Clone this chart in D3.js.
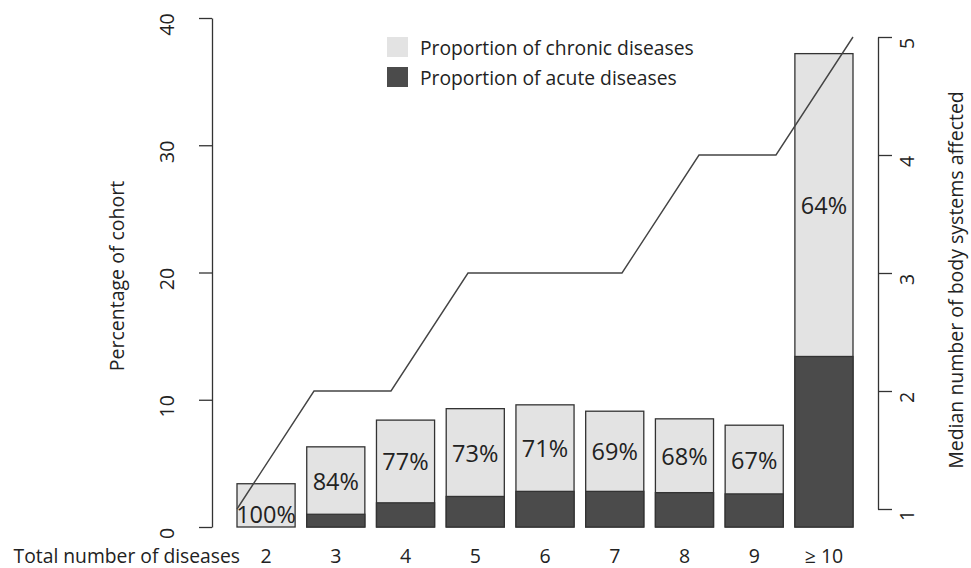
<!DOCTYPE html>
<html>
<head>
<meta charset="utf-8">
<script src="https://cdn.jsdelivr.net/npm/d3@7"></script>
<style>
  html, body { margin: 0; padding: 0; background: #fff; }
  svg { display: block; }
  text { font-family: "Open Sans", "Noto Sans", sans-serif; fill: #222; }
</style>
</head>
<body>
<svg id="chart" width="971" height="568"></svg>
<script>
// ---- data ----
const categories = ["2", "3", "4", "5", "6", "7", "8", "9", "\u2265 10"];
const totalPct   = [3.4, 6.3, 8.4, 9.3, 9.6, 9.1, 8.5, 8.0, 37.2];   // % of cohort (bar height)
const acutePct   = [0.0, 1.0, 1.9, 2.4, 2.8, 2.8, 2.7, 2.6, 13.4];  // acute part of bar
const chronicLabels = ["100%", "84%", "77%", "73%", "71%", "69%", "68%", "67%", "64%"];
const medianSystems = [1, 2, 2, 3, 3, 3, 4, 4, 5];
const leftTicks  = [0, 10, 20, 30, 40];
const rightTicks = [1, 2, 3, 4, 5];
const legendLabels = ["Proportion of chronic diseases", "Proportion of acute diseases"];

// ---- layout ----
const svg = d3.select("#chart");
const chronicColor = "#e3e3e3", acuteColor = "#4b4b4b", strokeColor = "#333";

const x = d3.scaleBand().domain(categories).range([237, 853])
  .paddingInner(0.2 / 1.2).paddingOuter(0);
const xLine = d3.scalePoint().domain(categories).range([237, 853]).padding(0);
const yL = d3.scaleLinear().domain([0, 40]).range([527, 18]);
const yR = d3.scaleLinear().domain([1, 5]).range([509, 37]);

// bars: chronic (full) then acute on top
const g = svg.append("g");
g.selectAll("rect.total").data(categories).join("rect")
  .attr("x", d => x(d)).attr("width", x.bandwidth())
  .attr("y", (d, i) => yL(totalPct[i]))
  .attr("height", (d, i) => yL(0) - yL(totalPct[i]))
  .attr("fill", chronicColor).attr("stroke", strokeColor).attr("stroke-width", 1.3);
g.selectAll("rect.acute").data(categories).join("rect")
  .attr("x", d => x(d)).attr("width", x.bandwidth())
  .attr("y", (d, i) => yL(acutePct[i]))
  .attr("height", (d, i) => yL(0) - yL(acutePct[i]))
  .attr("fill", acuteColor).attr("stroke", strokeColor).attr("stroke-width", 1.3)
  .attr("display", (d, i) => acutePct[i] > 0 ? null : "none");

// percent labels
g.selectAll("text.pct").data(categories).join("text")
  .attr("x", d => x(d) + x.bandwidth() / 2)
  .attr("y", (d, i) => (yL(totalPct[i]) + yL(acutePct[i])) / 2 + (i === 0 ? 9 : 0))
  .attr("text-anchor", "middle").attr("dominant-baseline", "central")
  .attr("font-size", 23.5).text((d, i) => chronicLabels[i]);

// line
const line = d3.line().x((d, i) => xLine(categories[i])).y(d => yR(d));
svg.append("path").datum(medianSystems).attr("d", line)
  .attr("fill", "none").attr("stroke", "#444").attr("stroke-width", 1.4);

// left axis
const axL = svg.append("g").attr("transform", "translate(212,0)")
  .call(d3.axisLeft(yL).tickValues(leftTicks).tickSizeInner(13).tickSizeOuter(0).tickPadding(0));
axL.select(".domain").attr("stroke", "#333").attr("stroke-width", 1.3);
axL.selectAll(".tick line").attr("stroke", "#333").attr("stroke-width", 1.3);
axL.selectAll(".tick text").attr("font-size", 19.5).attr("fill", "#222")
  .attr("transform", "translate(-45,6) rotate(-90)").attr("x", 0).attr("y", 0)
  .attr("dy", "0.35em").attr("text-anchor", "middle");

// right axis
const axR = svg.append("g").attr("transform", "translate(878,0)")
  .call(d3.axisRight(yR).tickValues(rightTicks).tickFormat(d3.format("d")).tickSizeInner(14).tickSizeOuter(0));
axR.select(".domain").attr("stroke", "#333").attr("stroke-width", 1.3);
axR.selectAll(".tick line").attr("stroke", "#333").attr("stroke-width", 1.3);
axR.selectAll(".tick text").attr("font-size", 19.5).attr("fill", "#222")
  .attr("transform", "translate(29,6) rotate(-90)").attr("x", 0).attr("y", 0)
  .attr("dy", "0.35em").attr("text-anchor", "middle");

// category labels
svg.selectAll("text.cat").data(categories).join("text")
  .attr("x", d => x(d) + x.bandwidth() / 2).attr("y", 563)
  .attr("text-anchor", "middle").attr("font-size", 19.5).text(d => d);
svg.append("text").attr("x", 240).attr("y", 563).attr("text-anchor", "end")
  .attr("font-size", 19.3).text("Total number of diseases");

// axis titles
svg.append("text").attr("transform", "translate(116,276) rotate(-90)")
  .attr("text-anchor", "middle").attr("dominant-baseline", "central")
  .attr("font-size", 19.5).text("Percentage of cohort");
svg.append("text").attr("transform", "translate(955,280) rotate(-90)")
  .attr("text-anchor", "middle").attr("dominant-baseline", "central")
  .attr("font-size", 19.5).text("Median number of body systems affected");

// legend
const legColors = [chronicColor, acuteColor];
const leg = svg.append("g");
leg.selectAll("rect").data(legendLabels).join("rect")
  .attr("x", 387).attr("y", (d, i) => 37 + i * 30).attr("width", 21).attr("height", 20)
  .attr("fill", (d, i) => legColors[i]);
leg.selectAll("text").data(legendLabels).join("text")
  .attr("x", 420).attr("y", (d, i) => 47 + i * 30).attr("dominant-baseline", "central")
  .attr("font-size", 19.3).text(d => d);
</script>
</body>
</html>
